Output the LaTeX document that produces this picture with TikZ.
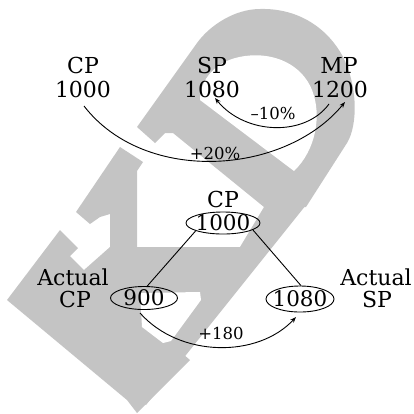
\documentclass[tikz,border=0pt]{standalone}
\usepackage{fontspec}
\setmainfont{DejaVu Serif}
\usetikzlibrary{arrows.meta,shapes.geometric}
\definecolor{wm}{RGB}{196,196,196}
\begin{document}
\begin{tikzpicture}[x=1pt,y=-1pt,
  lbl/.style={font=\fontsize{22}{24}\selectfont, inner sep=0pt},
  small/.style={font=\fontsize{16.5}{18}\selectfont, inner sep=0pt},
  oval/.style={ellipse, draw, line width=0.9pt, inner xsep=-10pt, inner ysep=-8pt,
     font=\fontsize{21.5}{24}\selectfont},
  arr/.style={line width=0.9pt, -{Stealth[length=6pt,width=4.5pt]}},
  link/.style={line width=0.9pt}]
\useasboundingbox (0,0) rectangle (414,413);
% watermark
\fill[wm] (7,300) -- (60,230) -- (78,248) -- (70,256) -- (84,270) -- (190,360) -- (137,413) -- (127,400) -- cycle;
\fill[wm] (120,147) -- (143,162) -- (137,171) -- (137,252) -- (110,252) -- (110,214) -- (100,217) -- (90,224) -- (76,212) -- cycle;
\fill[wm] (110,247) -- (240,247) -- (264,207) -- (306,205) -- (146,405) -- (120,380) -- (84,270) -- cycle;
\fill[white] (140,293) -- (200,292) -- (201,300) -- (171,341) -- (163,343) -- (142,327) -- cycle;
\fill[wm] (137,127) -- (197,43) .. controls (210,25) and (235,9) .. (260,9)
  .. controls (295,8) and (325,25) .. (342,55)
  .. controls (358,85) and (358,125) .. (347,143) -- (306,207) -- (264,207)
  -- (173,133) -- (165,133) -- (155,143) -- cycle;
\fill[white] (294,171) -- (200,100) .. controls (200,80) and (215,60) .. (245,56)
  .. controls (275,52) and (302,65) .. (312,90)
  .. controls (322,115) and (316,150) .. (294,171) -- cycle;
% top row
\node[lbl] (cpT) at (83,65) {CP};
\node[lbl] (cpV) at (83,89) {1000};
\node[lbl] (spT) at (212,65) {SP};
\node[lbl] (spV) at (212,89) {1080};
\node[lbl] (mpT) at (339,65) {MP};
\node[lbl] (mpV) at (340,89) {1200};
\coordinate (a1s) at (329,104);
\coordinate (a1e) at (215,98);
\coordinate (a2s) at (84,106);
\coordinate (a2e) at (345,102);
\draw[arr] (a1s) .. controls (305,137) and (245,135) .. (a1e);
\draw[arr] (a2s) .. controls (145,185) and (285,175) .. (a2e);
\node[small] (m10) at (273,113) {–10\%};
\node[small] (p20) at (215,153) {+20\%};
% bottom
\node[lbl] (cpB) at (223,199) {CP};
\node[oval, minimum width=74pt, minimum height=22pt] (n1000) at (223,223) {1000};
\node[oval, minimum width=67pt, minimum height=23pt] (n900) at (144,298) {900};
\node[oval, minimum width=68pt, minimum height=26pt] (n1080) at (300,299) {1080};
\draw[link] (n1000.196) -- (n900.75);
\draw[link] (n1000.347) -- (n1080.86);
\node[lbl] (acT) at (73,277) {Actual};
\node[lbl] (acB) at (75,299) {CP};
\node[lbl] (asT) at (376,277) {Actual};
\node[lbl] (asB) at (377,299) {SP};
\coordinate (a3s) at (140,313);
\coordinate (a3e) at (296,317);
\draw[arr] (a3s) .. controls (180,358) and (258,358) .. (a3e);
\node[small] (p180) at (221,333) {+180};
\end{tikzpicture}
\end{document}
